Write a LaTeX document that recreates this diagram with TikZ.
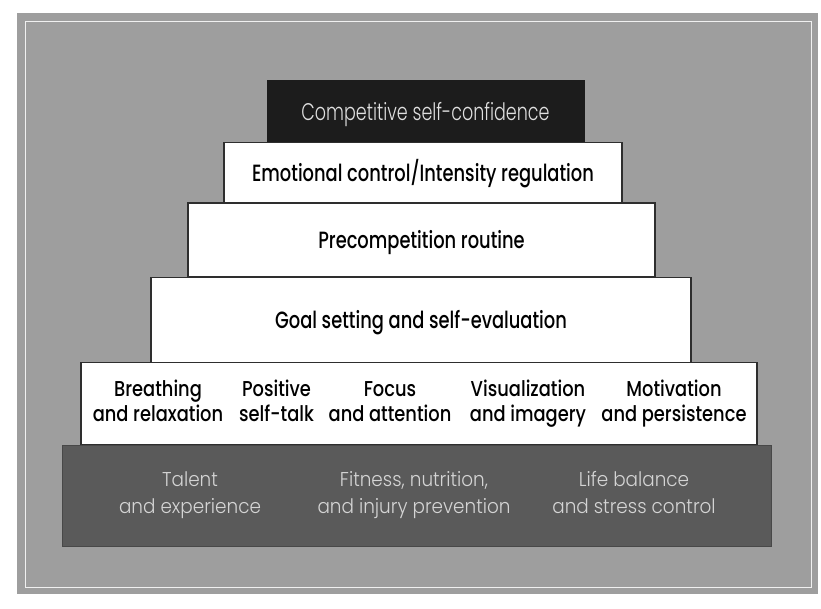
\documentclass[tikz,border=0pt]{standalone}
\usepackage{fontspec}
\setmainfont{Poppins Medium}[FakeStretch=0.76]
\newfontfamily\skillfont{Poppins Medium}[FakeStretch=0.83]
\newfontfamily\toplightfont{Poppins Light}[FakeStretch=0.73]
\newfontfamily\lightfont{Poppins Light}[FakeStretch=0.92]
\definecolor{panel}{HTML}{9E9E9E}
\definecolor{topbox}{HTML}{1C1C1C}
\definecolor{basebox}{HTML}{5A5A5A}
\definecolor{edge}{HTML}{2E2E2E}
\definecolor{basetext}{HTML}{D4D4D4}
\tikzset{
  bar/.style={draw=edge, line width=1.2pt, fill=white, inner sep=0pt, text=black, text height=17pt, text depth=0pt, font=\fontsize{23.5}{26}\selectfont},
  skill/.style={inner sep=0pt, align=center, anchor=base, text=black, font=\skillfont\fontsize{21.5}{25}\selectfont},
  basetxt/.style={inner sep=0pt, align=center, anchor=base, text=basetext, font=\lightfont\fontsize{20}{27.5}\selectfont},
}
\begin{document}
\begin{tikzpicture}[x=1pt,y=-1pt]
\useasboundingbox (0,0) rectangle (821,609);
\fill[panel] (17,13) rectangle (818,594);
\draw[white, opacity=0.85, line width=0.8pt] (25,21) rectangle (811,587);
% bars
\node[fill=topbox, draw=topbox, inner sep=0pt, minimum width=317pt, minimum height=62pt, text height=19pt, text depth=0pt, text=white!88!black, font=\toplightfont\fontsize{24}{26}\selectfont] (conf) at (425.5,111.5) {Competitive self-confidence};
\node[bar, minimum width=398pt, minimum height=60.5pt] (emo) at (423,172.75) {Emotional control/Intensity regulation};
\node[bar, minimum width=467pt, minimum height=74pt] (pre) at (421.5,240) {Precompetition routine};
\node[bar, minimum width=540pt, minimum height=84.5pt] (goal) at (421,320) {Goal setting and self-evaluation};
\node[bar, minimum width=676pt, minimum height=82.5pt] (skills) at (419,403.75) {};
\node[fill=basebox, draw=basebox!80!black, line width=0.8pt, inner sep=0pt, minimum width=709pt, minimum height=101pt] (base) at (416.5,495.5) {};
% skills
\node[skill] (breath) at (158,421.5) {Breathing\\and relaxation};
\node[skill] (talk) at (276.5,421.5) {Positive\\self-talk};
\node[skill] (focus) at (390,421.5) {Focus\\and attention};
\node[skill] (vis) at (528,421.5) {Visualization\\and imagery};
\node[skill] (mot) at (674,421.5) {Motivation\\and persistence};
% base
\node[basetxt] (talent) at (190,513.5) {Talent\\and experience};
\node[basetxt] (fit) at (414,513.5) {Fitness, nutrition,\\and injury prevention};
\node[basetxt] (life) at (634,513.5) {Life balance\\and stress control};
\end{tikzpicture}
\end{document}
